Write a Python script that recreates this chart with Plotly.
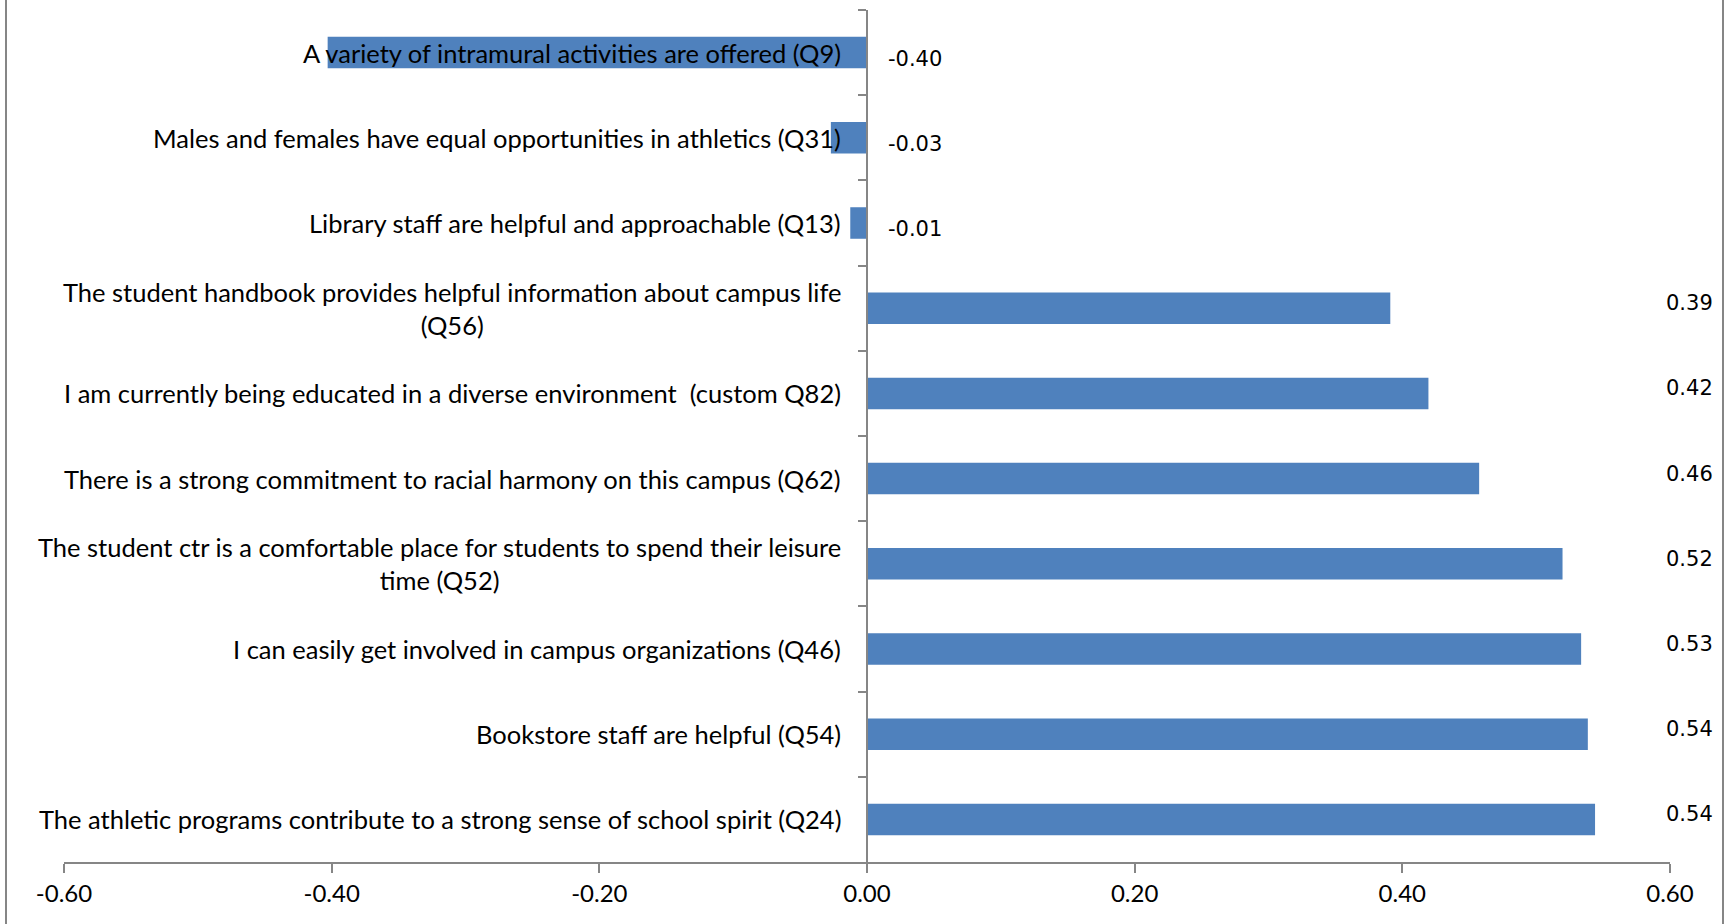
import plotly.graph_objects as go

# Survey items, listed top to bottom
categories = [
    "A variety of intramural activities are offered (Q9)",
    "Males and females have equal opportunities in athletics (Q31)",
    "Library staff are helpful and approachable (Q13)",
    "The student handbook provides helpful information about campus life<br>(Q56)",
    "I am currently being educated in a diverse environment \u00a0(custom Q82)",
    "There is a strong commitment to racial harmony on this campus (Q62)",
    "The student ctr is a comfortable place for students to spend their leisure<br>time (Q52)",
    "I can easily get involved in campus organizations (Q46)",
    "Bookstore staff are helpful (Q54)",
    "The athletic programs contribute to a strong sense of school spirit (Q24)",
]
values = [-0.403, -0.027, -0.0125, 0.391, 0.4195, 0.4574, 0.5197, 0.5336, 0.5386, 0.544]
x_ticks = [-0.6, -0.4, -0.2, 0.0, 0.2, 0.4, 0.6]

W, H = 1725, 924
L, R, T, B = 64, 55, 10, 62
plot_w = W - L - R

BAR = "#4F81BD"
AXIS = "#868686"
LABEL_FONT = "Lato"
VALUE_FONT = "DejaVu Sans"

fig = go.Figure(
    go.Bar(
        x=values,
        y=categories,
        orientation="h",
        marker=dict(color=BAR, line=dict(width=0)),
        width=0.37,
        hoverinfo="x+y",
    )
)

annotations = []
# category labels, right-aligned just left of the zero axis, wrapped lines centred
for cat in categories:
    annotations.append(dict(
        x=0.5, xref="paper", y=cat, yref="y",
        text=cat, showarrow=False, xanchor="right", align="center",
        xshift=-24, font=dict(family=LABEL_FONT, size=25.5, color="#000000"),
    ))
# value labels
for cat, v in zip(categories, values):
    if v >= 0:
        annotations.append(dict(
            x=1 + (1715 - (L + plot_w)) / plot_w, xref="paper", y=cat, yref="y",
            text=f"{v:.2f}", showarrow=False, xanchor="right", yshift=5,
            font=dict(family=VALUE_FONT, size=21, color="#000000"),
        ))
    else:
        annotations.append(dict(
            x=0, xref="x", y=cat, yref="y",
            text=f"{v:.2f}", showarrow=False, xanchor="left", xshift=19, yshift=-6,
            font=dict(family=VALUE_FONT, size=21, color="#000000"),
        ))

def px_to_paper(px):
    return (px - L) / plot_w

shapes = [
    dict(type="line", xref="paper", yref="paper", x0=px_to_paper(6), x1=px_to_paper(6),
         y0=-1, y1=2, line=dict(color=AXIS, width=2)),
    dict(type="line", xref="paper", yref="paper", x0=px_to_paper(1723), x1=px_to_paper(1723),
         y0=-1, y1=2, line=dict(color=AXIS, width=2)),
]

fig.update_layout(
    width=W, height=H,
    margin=dict(l=L, r=R, t=T, b=B),
    paper_bgcolor="white", plot_bgcolor="white",
    showlegend=False,
    bargap=0.63,
    annotations=annotations,
    shapes=shapes,
    xaxis=dict(
        range=[-0.6, 0.6],
        tickvals=x_ticks,
        ticktext=[f"{t:.2f}" for t in x_ticks],
        showgrid=False, zeroline=False,
        showline=True, linecolor=AXIS, linewidth=2,
        ticks="outside", ticklen=9, tickwidth=2, tickcolor=AXIS,
        ticklabelstandoff=0,
        tickfont=dict(family=LABEL_FONT, size=24, color="#000000"),
    ),
    yaxis=dict(
        type="category",
        autorange="reversed",
        anchor="free", position=0.5,
        showgrid=False, zeroline=False,
        showline=True, linecolor=AXIS, linewidth=2,
        ticks="outside", ticklen=8, tickwidth=2, tickcolor=AXIS,
        tickson="boundaries",
        showticklabels=False,
    ),
)

fig.write_html("out.html")
